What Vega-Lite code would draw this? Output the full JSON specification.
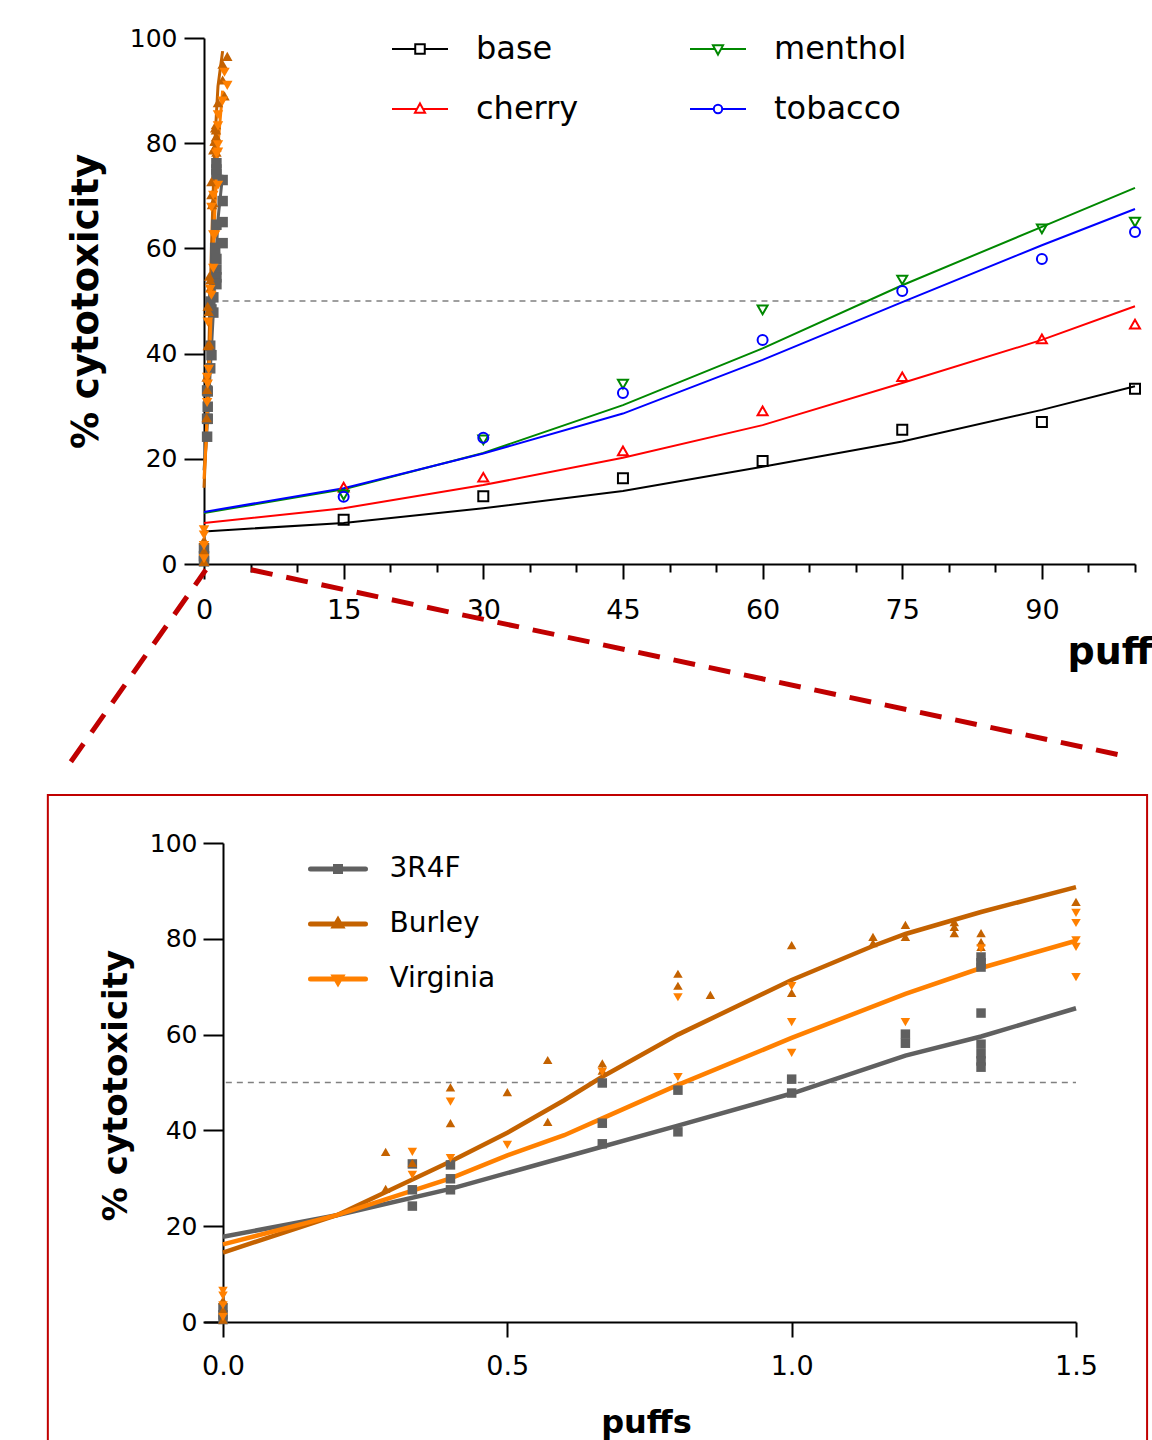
{
  "$schema": "https://vega.github.io/schema/vega-lite/v6.json",
  "background": "white",
  "padding": {"left": 46, "top": 20, "right": 0, "bottom": 0},
  "config": {
    "view": {"stroke": null},
    "font": "DejaVu Sans",
    "axis": {"grid": false, "domainColor": "#000", "domainWidth": 2, "tickColor": "#000", "tickWidth": 2, "labelColor": "#000", "titleColor": "#000", "labelFont": "DejaVu Sans", "titleFont": "DejaVu Sans", "labelFlush": false, "labelOverlap": false},
    "legend": {"padding": 0, "labelFont": "DejaVu Sans", "labelColor": "#000"}
  },
  "bounds": "flush",
  "spacing": 279,
  "resolve": {"scale": {"color": "independent", "shape": "independent", "fill": "independent"}},
  "datasets": {
    "flavorPts": [
      {"series": "base", "x": 15, "y": 8.4}, {"series": "base", "x": 30, "y": 12.9}, {"series": "base", "x": 45, "y": 16.3}, {"series": "base", "x": 60, "y": 19.6}, {"series": "base", "x": 75, "y": 25.5}, {"series": "base", "x": 90, "y": 27.0}, {"series": "base", "x": 100, "y": 33.3},
      {"series": "cherry", "x": 15, "y": 14.6}, {"series": "cherry", "x": 30, "y": 16.5}, {"series": "cherry", "x": 45, "y": 21.5}, {"series": "cherry", "x": 60, "y": 29.1}, {"series": "cherry", "x": 75, "y": 35.6}, {"series": "cherry", "x": 90, "y": 42.8}, {"series": "cherry", "x": 100, "y": 45.6},
      {"series": "menthol", "x": 15, "y": 13.1}, {"series": "menthol", "x": 30, "y": 23.6}, {"series": "menthol", "x": 45, "y": 34.2}, {"series": "menthol", "x": 60, "y": 48.3}, {"series": "menthol", "x": 75, "y": 54.0}, {"series": "menthol", "x": 90, "y": 63.7}, {"series": "menthol", "x": 100, "y": 65.0},
      {"series": "tobacco", "x": 15, "y": 12.8}, {"series": "tobacco", "x": 30, "y": 24.0}, {"series": "tobacco", "x": 45, "y": 32.5}, {"series": "tobacco", "x": 60, "y": 42.6}, {"series": "tobacco", "x": 75, "y": 51.9}, {"series": "tobacco", "x": 90, "y": 58.0}, {"series": "tobacco", "x": 100, "y": 63.1}
    ],
    "flavorFit": [
      {"series": "base", "x": 0, "y": 6.2}, {"series": "base", "x": 15, "y": 7.8}, {"series": "base", "x": 30, "y": 10.6}, {"series": "base", "x": 45, "y": 13.9}, {"series": "base", "x": 60, "y": 18.5}, {"series": "base", "x": 75, "y": 23.3}, {"series": "base", "x": 90, "y": 29.3}, {"series": "base", "x": 100, "y": 33.8},
      {"series": "cherry", "x": 0, "y": 7.8}, {"series": "cherry", "x": 15, "y": 10.6}, {"series": "cherry", "x": 30, "y": 15.0}, {"series": "cherry", "x": 45, "y": 20.2}, {"series": "cherry", "x": 60, "y": 26.4}, {"series": "cherry", "x": 75, "y": 34.4}, {"series": "cherry", "x": 90, "y": 42.6}, {"series": "cherry", "x": 100, "y": 49.0},
      {"series": "menthol", "x": 0, "y": 9.7}, {"series": "menthol", "x": 15, "y": 14.2}, {"series": "menthol", "x": 30, "y": 21.1}, {"series": "menthol", "x": 45, "y": 30.2}, {"series": "menthol", "x": 60, "y": 41.0}, {"series": "menthol", "x": 75, "y": 53.0}, {"series": "menthol", "x": 90, "y": 64.1}, {"series": "menthol", "x": 100, "y": 71.5},
      {"series": "tobacco", "x": 0, "y": 9.9}, {"series": "tobacco", "x": 15, "y": 14.4}, {"series": "tobacco", "x": 30, "y": 21.0}, {"series": "tobacco", "x": 45, "y": 28.6}, {"series": "tobacco", "x": 60, "y": 38.8}, {"series": "tobacco", "x": 75, "y": 49.8}, {"series": "tobacco", "x": 90, "y": 60.6}, {"series": "tobacco", "x": 100, "y": 67.5}
    ],
    "tobPts": [
      {"series": "3R4F", "x": 0, "y": 0.5}, {"series": "3R4F", "x": 0, "y": 1.5}, {"series": "3R4F", "x": 0, "y": 3.0},
      {"series": "3R4F", "x": 0.333, "y": 33.0}, {"series": "3R4F", "x": 0.333, "y": 27.6}, {"series": "3R4F", "x": 0.333, "y": 24.2},
      {"series": "3R4F", "x": 0.4, "y": 32.8}, {"series": "3R4F", "x": 0.4, "y": 29.9}, {"series": "3R4F", "x": 0.4, "y": 27.6},
      {"series": "3R4F", "x": 0.667, "y": 49.9}, {"series": "3R4F", "x": 0.667, "y": 41.5}, {"series": "3R4F", "x": 0.667, "y": 37.2},
      {"series": "3R4F", "x": 0.8, "y": 48.4}, {"series": "3R4F", "x": 0.8, "y": 39.7},
      {"series": "3R4F", "x": 1.0, "y": 50.7}, {"series": "3R4F", "x": 1.0, "y": 47.8},
      {"series": "3R4F", "x": 1.2, "y": 60.1}, {"series": "3R4F", "x": 1.2, "y": 58.2},
      {"series": "3R4F", "x": 1.333, "y": 76.2}, {"series": "3R4F", "x": 1.333, "y": 75.0}, {"series": "3R4F", "x": 1.333, "y": 74.1}, {"series": "3R4F", "x": 1.333, "y": 64.5}, {"series": "3R4F", "x": 1.333, "y": 58.0}, {"series": "3R4F", "x": 1.333, "y": 56.0}, {"series": "3R4F", "x": 1.333, "y": 54.5}, {"series": "3R4F", "x": 1.333, "y": 53.2},
      {"series": "3R4F", "x": 2.0, "y": 73.0}, {"series": "3R4F", "x": 2.0, "y": 69.0}, {"series": "3R4F", "x": 2.0, "y": 65.0}, {"series": "3R4F", "x": 2.0, "y": 61.0},
      {"series": "Burley", "x": 0, "y": 0.5}, {"series": "Burley", "x": 0, "y": 2.5}, {"series": "Burley", "x": 0, "y": 4.5},
      {"series": "Burley", "x": 0.286, "y": 35.5}, {"series": "Burley", "x": 0.286, "y": 27.8}, {"series": "Burley", "x": 0.333, "y": 33.2},
      {"series": "Burley", "x": 0.4, "y": 49.0}, {"series": "Burley", "x": 0.4, "y": 41.5}, {"series": "Burley", "x": 0.5, "y": 48.0},
      {"series": "Burley", "x": 0.571, "y": 54.7}, {"series": "Burley", "x": 0.571, "y": 41.8},
      {"series": "Burley", "x": 0.667, "y": 54.0}, {"series": "Burley", "x": 0.667, "y": 52.5},
      {"series": "Burley", "x": 0.8, "y": 72.7}, {"series": "Burley", "x": 0.8, "y": 70.2}, {"series": "Burley", "x": 0.857, "y": 68.3},
      {"series": "Burley", "x": 1.0, "y": 78.7}, {"series": "Burley", "x": 1.0, "y": 68.7},
      {"series": "Burley", "x": 1.143, "y": 80.4}, {"series": "Burley", "x": 1.143, "y": 79.1},
      {"series": "Burley", "x": 1.2, "y": 82.9}, {"series": "Burley", "x": 1.2, "y": 80.4},
      {"series": "Burley", "x": 1.286, "y": 83.5}, {"series": "Burley", "x": 1.286, "y": 82.5}, {"series": "Burley", "x": 1.286, "y": 81.2},
      {"series": "Burley", "x": 1.333, "y": 81.2}, {"series": "Burley", "x": 1.333, "y": 79.3}, {"series": "Burley", "x": 1.333, "y": 78.3},
      {"series": "Burley", "x": 1.5, "y": 87.7},
      {"series": "Burley", "x": 2.0, "y": 92.0}, {"series": "Burley", "x": 2.0, "y": 95.0}, {"series": "Burley", "x": 2.5, "y": 96.5}, {"series": "Burley", "x": 2.2, "y": 89.0},
      {"series": "Virginia", "x": 0, "y": 1.0}, {"series": "Virginia", "x": 0, "y": 3.5}, {"series": "Virginia", "x": 0, "y": 5.5}, {"series": "Virginia", "x": 0, "y": 6.5},
      {"series": "Virginia", "x": 0.333, "y": 35.5}, {"series": "Virginia", "x": 0.333, "y": 30.7},
      {"series": "Virginia", "x": 0.4, "y": 46.0}, {"series": "Virginia", "x": 0.4, "y": 34.2}, {"series": "Virginia", "x": 0.5, "y": 37.0},
      {"series": "Virginia", "x": 0.667, "y": 52.2}, {"series": "Virginia", "x": 0.8, "y": 67.8}, {"series": "Virginia", "x": 0.8, "y": 51.1},
      {"series": "Virginia", "x": 1.0, "y": 70.1}, {"series": "Virginia", "x": 1.0, "y": 62.6}, {"series": "Virginia", "x": 1.0, "y": 56.2},
      {"series": "Virginia", "x": 1.2, "y": 62.6}, {"series": "Virginia", "x": 1.333, "y": 78.0},
      {"series": "Virginia", "x": 1.5, "y": 85.4}, {"series": "Virginia", "x": 1.5, "y": 83.3}, {"series": "Virginia", "x": 1.5, "y": 79.7}, {"series": "Virginia", "x": 1.5, "y": 78.3}, {"series": "Virginia", "x": 1.5, "y": 72.0},
      {"series": "Virginia", "x": 2.0, "y": 88.0}, {"series": "Virginia", "x": 2.2, "y": 93.5}, {"series": "Virginia", "x": 2.5, "y": 91.0}
    ],
    "tobFit": [
      {"series": "3R4F", "x": 0, "y": 17.8}, {"series": "3R4F", "x": 0.2, "y": 22.3}, {"series": "3R4F", "x": 0.4, "y": 27.8}, {"series": "3R4F", "x": 0.6, "y": 34.4}, {"series": "3R4F", "x": 0.8, "y": 41.0}, {"series": "3R4F", "x": 1.0, "y": 47.7}, {"series": "3R4F", "x": 1.2, "y": 55.6}, {"series": "3R4F", "x": 1.333, "y": 59.6}, {"series": "3R4F", "x": 1.5, "y": 65.5}, {"series": "3R4F", "x": 2.0, "y": 74.0},
      {"series": "Burley", "x": 0, "y": 14.5}, {"series": "Burley", "x": 0.2, "y": 22.3}, {"series": "Burley", "x": 0.4, "y": 33.5}, {"series": "Burley", "x": 0.5, "y": 39.5}, {"series": "Burley", "x": 0.6, "y": 46.3}, {"series": "Burley", "x": 0.667, "y": 51.2}, {"series": "Burley", "x": 0.8, "y": 60.0}, {"series": "Burley", "x": 1.0, "y": 71.4}, {"series": "Burley", "x": 1.143, "y": 78.5}, {"series": "Burley", "x": 1.2, "y": 81.0}, {"series": "Burley", "x": 1.333, "y": 85.6}, {"series": "Burley", "x": 1.5, "y": 90.8}, {"series": "Burley", "x": 2.0, "y": 97.5},
      {"series": "Virginia", "x": 0, "y": 16.2}, {"series": "Virginia", "x": 0.2, "y": 22.3}, {"series": "Virginia", "x": 0.4, "y": 30.0}, {"series": "Virginia", "x": 0.5, "y": 34.8}, {"series": "Virginia", "x": 0.6, "y": 39.0}, {"series": "Virginia", "x": 0.667, "y": 42.5}, {"series": "Virginia", "x": 0.8, "y": 49.5}, {"series": "Virginia", "x": 1.0, "y": 59.3}, {"series": "Virginia", "x": 1.2, "y": 68.5}, {"series": "Virginia", "x": 1.333, "y": 73.9}, {"series": "Virginia", "x": 1.5, "y": 79.6}, {"series": "Virginia", "x": 2.0, "y": 90.0}
    ],
    "zoomLines": [
      {"seg": "a", "x": 0.2, "y": -1.1}, {"seg": "a", "x": -14.3, "y": -37.6},
      {"seg": "b", "x": 5.05, "y": -1.1}, {"seg": "b", "x": 99.4, "y": -36.7}
    ]
  },
  "vconcat": [
    {
      "width": 931,
      "height": 526,
      "layer": [
        {
          "data": {"values": [{}]},
          "mark": {"type": "rule", "color": "#808080", "strokeDash": [6, 5], "strokeWidth": 1.5},
          "encoding": {
            "y": {"datum": 50, "type": "quantitative", "scale": {"domain": [0, 100], "nice": false}},
            "x": {"datum": 0.8, "type": "quantitative", "scale": {"domain": [0, 100], "nice": false, "zero": false}},
            "x2": {"datum": 99.6}
          }
        },
        {
          "data": {"name": "flavorFit"},
          "mark": {"type": "line", "strokeWidth": 2},
          "encoding": {
            "x": {"field": "x", "type": "quantitative", "scale": {"domain": [0, 100], "nice": false, "zero": false},
              "axis": {"values": [0, 5, 10, 15, 20, 25, 30, 35, 40, 45, 50, 55, 60, 65, 70, 75, 80, 85, 90, 95, 100],
                "labelExpr": "datum.value % 15 === 0 ? datum.label : ''",
                "tickSize": {"condition": {"test": "datum.value % 15 === 0", "value": 15}, "value": 8},
                "labelFontSize": 27, "labelPadding": 18,
                "title": "puffs", "titleFontSize": 38, "titleFontWeight": "bold", "titleX": 863, "titleY": 99, "titleAlign": "left", "titleBaseline": "alphabetic"}},
            "y": {"field": "y", "type": "quantitative", "scale": {"domain": [0, 100], "nice": false},
              "axis": {"values": [0, 20, 40, 60, 80, 100], "tickSize": 20, "labelFontSize": 25, "labelPadding": 7,
                "title": "% cytotoxicity", "titleFontSize": 37, "titleFontWeight": "bold", "titleX": -118, "titleY": 263, "titleAngle": -90, "titleAlign": "center", "titleBaseline": "middle"}},
            "color": {"field": "series", "type": "nominal",
              "scale": {"domain": ["base", "menthol", "cherry", "tobacco", "3R4F", "Burley", "Virginia"], "range": ["#000000", "#008800", "#ff0000", "#0000ff", "#606060", "#c46200", "#ff8000"]},
              "legend": {
                "values": ["base", "cherry", "menthol", "tobacco"],
                "orient": "none", "legendX": 187, "legendY": -18,
                "columns": 2, "columnPadding": 107, "rowPadding": 15,
                "title": null,
                "labelFontSize": 32, "labelOffset": 27,
                "symbolSize": 3136, "symbolStrokeWidth": 2,
                "encode": {"symbols": {"update": {
                  "shape": {"signal": "datum.value === 'base' ? 'M-1,0H-0.17M0.17,0H1M-0.17,-0.17H0.17V0.17H-0.17Z' : datum.value === 'cherry' ? 'M-1,0H-0.11M0.11,0H1M0,-0.2L0.18,0.13L-0.18,0.13Z' : datum.value === 'menthol' ? 'M-1,0H-0.11M0.11,0H1M0,0.2L0.18,-0.13L-0.18,-0.13Z' : 'M-1,0H-0.15M0.15,0H1M0.15,0A0.15,0.15,0,1,1,-0.15,0A0.15,0.15,0,1,1,0.15,0Z'"},
                  "fill": {"value": "transparent"},
                  "size": {"value": 3136},
                  "strokeWidth": {"value": 2},
                  "opacity": {"value": 1}
                }}}
              }},
            "detail": {"field": "series"}
          }
        },
        {
          "data": {"name": "flavorPts"},
          "mark": {"type": "point", "filled": false, "strokeWidth": 2, "size": 100, "opacity": 1},
          "encoding": {
            "x": {"field": "x", "type": "quantitative", "scale": {"domain": [0, 100], "nice": false, "zero": false}},
            "y": {"field": "y", "type": "quantitative", "scale": {"domain": [0, 100], "nice": false}},
            "color": {"field": "series", "type": "nominal"},
            "shape": {"field": "series", "type": "nominal", "legend": null,
              "scale": {"domain": ["base", "cherry", "menthol", "tobacco", "3R4F", "Burley", "Virginia"], "range": ["square", "triangle-up", "triangle-down", "circle", "square", "triangle-up", "triangle-down"]}}
          }
        },
        {
          "data": {"name": "tobFit"},
          "mark": {"type": "line", "strokeWidth": 3},
          "encoding": {
            "x": {"field": "x", "type": "quantitative", "scale": {"domain": [0, 100], "nice": false, "zero": false}},
            "y": {"field": "y", "type": "quantitative", "scale": {"domain": [0, 100], "nice": false}},
            "color": {"field": "series", "type": "nominal"},
            "detail": {"field": "series"}
          }
        },
        {
          "data": {"name": "tobPts"},
          "mark": {"type": "point", "filled": true, "size": 110, "opacity": 1},
          "encoding": {
            "x": {"field": "x", "type": "quantitative", "scale": {"domain": [0, 100], "nice": false, "zero": false}},
            "y": {"field": "y", "type": "quantitative", "scale": {"domain": [0, 100], "nice": false}},
            "fill": {"field": "series", "type": "nominal", "legend": null,
              "scale": {"domain": ["3R4F", "Burley", "Virginia"], "range": ["#606060", "#c46200", "#ff8000"]}},
            "shape": {"field": "series", "type": "nominal", "legend": null}
          }
        },
        {
          "data": {"name": "zoomLines"},
          "mark": {"type": "line", "color": "#c00000", "strokeWidth": 5, "strokeDash": [22, 14]},
          "encoding": {
            "x": {"field": "x", "type": "quantitative", "scale": {"domain": [0, 100], "nice": false, "zero": false}},
            "y": {"field": "y", "type": "quantitative", "scale": {"domain": [0, 100], "nice": false}},
            "detail": {"field": "seg"}
          }
        }
      ]
    },
    {
      "width": 872,
      "height": 479,
      "layer": [
        {
          "data": {"values": [{}]},
          "mark": {"type": "rule", "color": "#808080", "strokeDash": [6, 5], "strokeWidth": 1.5},
          "encoding": {
            "y": {"datum": 50, "type": "quantitative", "scale": {"domain": [0, 100], "nice": false}},
            "x": {"datum": 0.005, "type": "quantitative", "scale": {"domain": [-0.0334, 1.5], "nice": false, "zero": false}},
            "x2": {"datum": 1.5}
          }
        },
        {
          "data": {"values": [{}]},
          "mark": {"type": "rect", "filled": false, "color": "#c00000", "strokeWidth": 2},
          "encoding": {
            "x": {"datum": -0.308, "type": "quantitative", "scale": {"domain": [-0.0334, 1.5], "nice": false, "zero": false}},
            "x2": {"datum": 1.625},
            "y": {"datum": 110, "type": "quantitative", "scale": {"domain": [0, 100], "nice": false}},
            "y2": {"datum": -30}
          }
        },
        {
          "data": {"name": "tobFit"},
          "transform": [{"filter": "datum.x <= 1.5"}],
          "mark": {"type": "line", "strokeWidth": 4.5},
          "encoding": {
            "x": {"field": "x", "type": "quantitative", "scale": {"domain": [-0.0334, 1.5], "nice": false, "zero": false},
              "axis": {"values": [0, 0.5, 1, 1.5], "format": ".1f", "tickSize": 15, "labelFontSize": 27, "labelPadding": 16,
                "title": "puffs", "titleFontSize": 32, "titleFontWeight": "bold", "titleX": 442, "titleY": 110, "titleAlign": "center", "titleBaseline": "alphabetic"}},
            "y": {"field": "y", "type": "quantitative", "scale": {"domain": [0, 100], "nice": false},
              "axis": {"offset": -19, "values": [0, 20, 40, 60, 80, 100], "tickSize": 20, "labelFontSize": 25, "labelPadding": 6,
                "title": "% cytotoxicity", "titleFontSize": 34, "titleFontWeight": "bold", "titleX": -107, "titleY": 242, "titleAngle": -90, "titleAlign": "center", "titleBaseline": "middle"}},
            "color": {"field": "series", "type": "nominal",
              "scale": {"domain": ["3R4F", "Burley", "Virginia"], "range": ["#606060", "#c46200", "#ff8000"]},
              "legend": {
                "orient": "none", "legendX": 106.5, "legendY": -1.5,
                "direction": "vertical", "rowPadding": 13,
                "title": null,
                "labelFontSize": 28, "labelOffset": 24,
                "symbolSize": 2500,
                "encode": {"symbols": {"update": {
                  "shape": {"signal": "datum.value === '3R4F' ? 'M-1.1,0H1.1M-0.1,-0.1H0.1V0.1H-0.1Z' : datum.value === 'Burley' ? 'M-1.1,0H1.1M0,-0.14L0.13,0.08L-0.13,0.08Z' : 'M-1.1,0H1.1M0,0.14L0.13,-0.08L-0.13,-0.08Z'"},
                  "size": {"value": 2500},
                  "strokeWidth": {"value": 5},
                  "strokeCap": {"value": "round"},
                  "opacity": {"value": 1}
                }}}
              }},
            "detail": {"field": "series"}
          }
        },
        {
          "data": {"name": "tobPts"},
          "transform": [{"filter": "datum.x <= 1.5"}],
          "mark": {"type": "point", "filled": true, "size": 90, "opacity": 1},
          "encoding": {
            "x": {"field": "x", "type": "quantitative", "scale": {"domain": [-0.0334, 1.5], "nice": false, "zero": false}},
            "y": {"field": "y", "type": "quantitative", "scale": {"domain": [0, 100], "nice": false}},
            "color": {"field": "series", "type": "nominal"},
            "shape": {"field": "series", "type": "nominal", "legend": null,
              "scale": {"domain": ["Burley", "3R4F", "Virginia"], "range": ["triangle-up", "square", "triangle-down"]}}
          }
        }
      ]
    }
  ]
}
